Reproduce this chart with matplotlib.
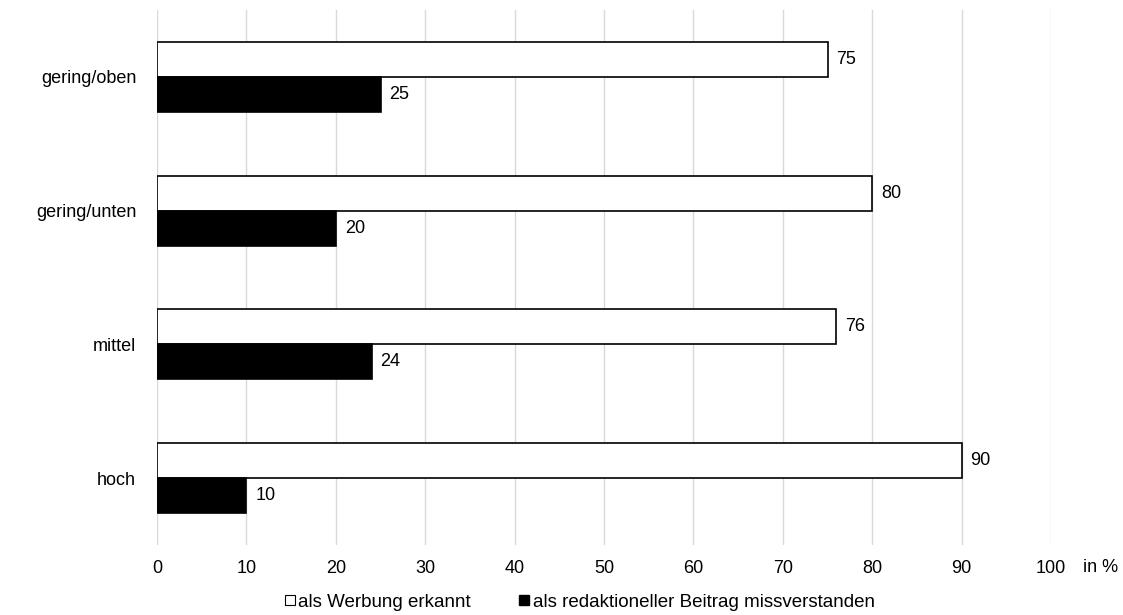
import matplotlib.pyplot as plt
from matplotlib.lines import Line2D
import numpy as np

plt.rcParams['font.family'] = ['Liberation Sans', 'DejaVu Sans']

categories = ['gering/oben', 'gering/unten', 'mittel', 'hoch']
erkannt = [75, 80, 76, 90]
missverstanden = [25, 20, 24, 10]
series_names = ['als Werbung erkannt', 'als redaktioneller Beitrag missverstanden']
xticks = list(range(0, 101, 10))

fig = plt.figure(figsize=(11.23, 6.15), dpi=100)
ax = fig.add_axes([157 / 1123, 70 / 615, 894 / 1123, 535 / 615])

y = np.arange(len(categories))
h = 0.262
ax.barh(y - h / 2, erkannt, height=h, color='white', edgecolor='black', linewidth=1.2, zorder=3)
ax.barh(y + h / 2, missverstanden, height=h, color='black', edgecolor='black', linewidth=1.2, zorder=3)

# value labels just right of each bar
for yi, v in zip(y - h / 2, erkannt):
    ax.text(v + 1.0, yi, str(v), va='center', ha='left', fontsize=13)
for yi, v in zip(y + h / 2, missverstanden):
    ax.text(v + 1.0, yi, str(v), va='center', ha='left', fontsize=13)

ax.set_xlim(0, 100)
ax.set_ylim(3.5, -0.5)
ax.set_xticks(xticks)
ax.set_yticks(y)
ax.set_yticklabels(categories, fontsize=13)
ax.tick_params(axis='x', labelsize=13, length=0, pad=11)
ax.tick_params(axis='y', length=0, pad=15)
ax.grid(axis='x', color='#d9d9d9', linewidth=1, zorder=0)
for s in ax.spines.values():
    s.set_visible(False)

fig.text(1083 / 1123, 1 - 567 / 615, 'in %', fontsize=13, va='center', ha='left')

handles = [
    Line2D([], [], marker='s', linestyle='none', markersize=7,
           markerfacecolor='white', markeredgecolor='black', markeredgewidth=0.8),
    Line2D([], [], marker='s', linestyle='none', markersize=7,
           markerfacecolor='black', markeredgecolor='black'),
]
fig.legend(handles, series_names, loc='center left', bbox_to_anchor=(285 / 1123, 1 - 602 / 615),
           ncol=2, frameon=False, fontsize=13.5, handlelength=0.5, handletextpad=0.2,
           columnspacing=2.6, borderaxespad=0, borderpad=0)

fig.savefig('out.png', dpi=100)
